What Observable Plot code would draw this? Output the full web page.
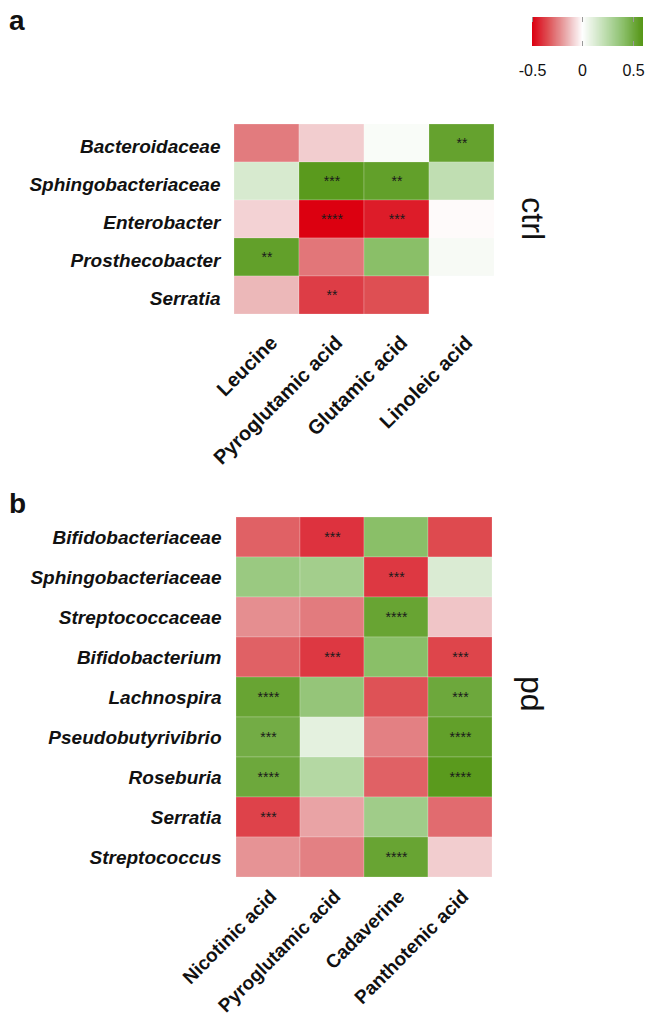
<!DOCTYPE html>
<html><head><meta charset="utf-8">
<script src="https://cdn.jsdelivr.net/npm/d3@7"></script>
<script src="https://cdn.jsdelivr.net/npm/@observablehq/plot@0.6"></script>
<style>
body{margin:0;background:#fff;}
#wrap{position:relative;width:647px;height:1015px;font-family:"Liberation Sans",Arial,sans-serif;color:#111;overflow:hidden;}
.letter{position:absolute;font-weight:bold;font-size:28px;line-height:1;}
</style></head><body><div id="wrap"></div>
<script>
// ---- data ----
const taxaA = ["Bacteroidaceae","Sphingobacteriaceae","Enterobacter","Prosthecobacter","Serratia"];
const metabolitesA = ["Leucine","Pyroglutamic acid","Glutamic acid","Linoleic acid"];
const valuesA = [
  [-0.26,-0.10, 0.02, 0.54],
  [ 0.14, 0.58, 0.55, 0.22],
  [-0.09,-0.50,-0.445,-0.01],
  [ 0.55,-0.27, 0.41, 0.03],
  [-0.14,-0.38,-0.345, 0.0]
];
const starsA = [
  ["","","","**"],
  ["","***","**",""],
  ["","****","***",""],
  ["**","","",""],
  ["","**","",""]
];
const taxaB = ["Bifidobacteriaceae","Sphingobacteriaceae","Streptococcaceae","Bifidobacterium","Lachnospira","Pseudobutyrivibrio","Roseburia","Serratia","Streptococcus"];
const metabolitesB = ["Nicotinic acid","Pyroglutamic acid","Cadaverine","Panthotenic acid"];
const valuesB = [
  [-0.31,-0.40, 0.41,-0.355],
  [ 0.35, 0.32,-0.39, 0.13],
  [-0.22,-0.26, 0.53,-0.115],
  [-0.31,-0.39, 0.41,-0.365],
  [ 0.53, 0.37,-0.34, 0.51],
  [ 0.49, 0.095,-0.25, 0.55],
  [ 0.51, 0.26,-0.31, 0.58],
  [-0.37,-0.18, 0.33,-0.29],
  [-0.21,-0.25, 0.53,-0.10]
];
const starsB = [
  ["","***","",""],
  ["","","***",""],
  ["","","****",""],
  ["","***","","***"],
  ["****","","","***"],
  ["***","","","****"],
  ["****","","","****"],
  ["***","","",""],
  ["","","****",""]
];
const legendTicks = [-0.5, 0, 0.5];
const panelLabels = ["ctrl","pd"];

// ---- color ----
const redRamp = d3.scaleLinear()
  .domain([0, 0.2, 0.28, 0.44, 0.52, 0.69, 0.79, 1])
  .range(["#ffffff", "#f2cdcf", "#ecb8b9", "#e58e90", "#e27b7e", "#de4f53", "#dd3540", "#dc0010"])
  .interpolate(d3.interpolateRgb).clamp(true);
const greenRamp = d3.scaleLinear()
  .domain([0, 0.23, 0.36, 0.58, 0.68, 0.82, 0.96, 1])
  .range(["#ffffff", "#d8ead0", "#c1dfb3", "#9bc982", "#8bbf69", "#72ac44", "#5b9a1e", "#579719"])
  .interpolate(d3.interpolateRgb).clamp(true);
const ramp = v => v < 0 ? redRamp(-v / 0.5) : greenRamp(v / 0.6);
const colorOpts = {type: "linear", domain: [-0.5, 0.6], interpolate: t => ramp(-0.5 + 1.1 * t), clamp: true};

const FONT = '"Liberation Sans", Arial, sans-serif';
const wrap = document.getElementById("wrap");

function place(el, left, top) {
  el.style.position = "absolute"; el.style.left = left + "px"; el.style.top = top + "px";
  wrap.appendChild(el);
}

function shiftGroups(s, sel, dx, dy) {
  s.selectAll(sel).each(function() {
    const g = d3.select(this);
    g.attr("transform", (g.attr("transform") || "") + ` translate(${dx},${dy})`);
  });
}

function panel(taxa, mets, vals, stars, label, opts) {
  const cells = taxa.flatMap((t, i) => mets.map((m, j) => ({taxon: t, metabolite: m, value: vals[i][j], stars: stars[i][j]})));
  const p = Plot.plot({
    width: 647, height: opts.height,
    marginLeft: opts.left, marginRight: 647 - opts.right, marginTop: opts.mt, marginBottom: opts.mb,
    x: {domain: mets, label: null, tickSize: 0, tickRotate: -45, tickPadding: opts.xpad, padding: 0},
    y: {domain: taxa, label: null, tickSize: 0, tickPadding: 14, padding: 0},
    color: colorOpts,
    style: {fontFamily: FONT, fontSize: "19px", color: "#111", background: "transparent"},
    marks: [
      Plot.cell(cells, {x: "metabolite", y: "taxon", fill: "value", inset: 0, stroke: "#ffffff", strokeOpacity: 0.35, strokeWidth: 0.6}),
      Plot.text(cells, {x: "metabolite", y: "taxon", text: "stars", fontSize: 14, fill: "#1a1a1a"}),
      Plot.text([label], {text: d => d, frameAnchor: "right", dx: 38, dy: opts.labelDy, rotate: 90, fontSize: 32, fill: "#111"})
    ]
  });
  const s = d3.select(p);
  s.selectAll('[aria-label^="y-axis"] text').style("font-weight", "bold").style("font-style", "italic").style("font-size", "19px");
  s.selectAll('[aria-label^="x-axis"] text').style("font-weight", "bold").style("font-size", opts.xFont + "px");
  shiftGroups(s, 'g[aria-label^="x-axis"]', opts.xShift[0], opts.xShift[1]);
  shiftGroups(s, 'g[aria-label^="y-axis"]', 0, opts.yShift);
  return p;
}

// letters
const la = document.createElement("div"); la.className = "letter"; la.textContent = "a"; place(la, 9, 7);
const lb = document.createElement("div"); lb.className = "letter"; lb.textContent = "b"; place(lb, 9, 490);

// legend
const leg = Plot.legend({
  color: colorOpts, ticks: legendTicks, tickFormat: d => d === 0 ? "0" : String(d),
  width: 135, height: 90, marginLeft: 20, marginRight: 4, marginTop: 17, marginBottom: 44, tickSize: 0,
  style: {fontFamily: FONT, fontSize: "16px", color: "#111", background: "transparent"}
});
d3.select(leg).selectAll(".tick text").attr("y", 19).style("font-size", "16px");
d3.select(leg).selectAll(".tick line").attr("stroke", "#9a9a9a").attr("y1", -29).attr("y2", -24);
d3.select(leg).selectAll(".tick").each(function(d) {
  if (d === -0.5) return;
  d3.select(this).append("line").attr("stroke", "#9a9a9a").attr("y1", -5).attr("y2", 0);
});
place(leg, 512, 0);

// panels
const pa = panel(taxaA, metabolitesA, valuesA, starsA, panelLabels[0],
  {height: 385, left: 234, right: 494, mt: 22, mb: 170, xpad: 10, xShift: [7, 14], yShift: 3, labelDy: 21, xFont: 20});
place(pa, 0, 100);
const pb = panel(taxaB, metabolitesB, valuesB, starsB, panelLabels[1],
  {height: 525, left: 235, right: 493, mt: 24, mb: 135, xpad: 10, xShift: [5, 3], yShift: 0, labelDy: 14, xFont: 19});
place(pb, 0, 490);
</script>
</body></html>
